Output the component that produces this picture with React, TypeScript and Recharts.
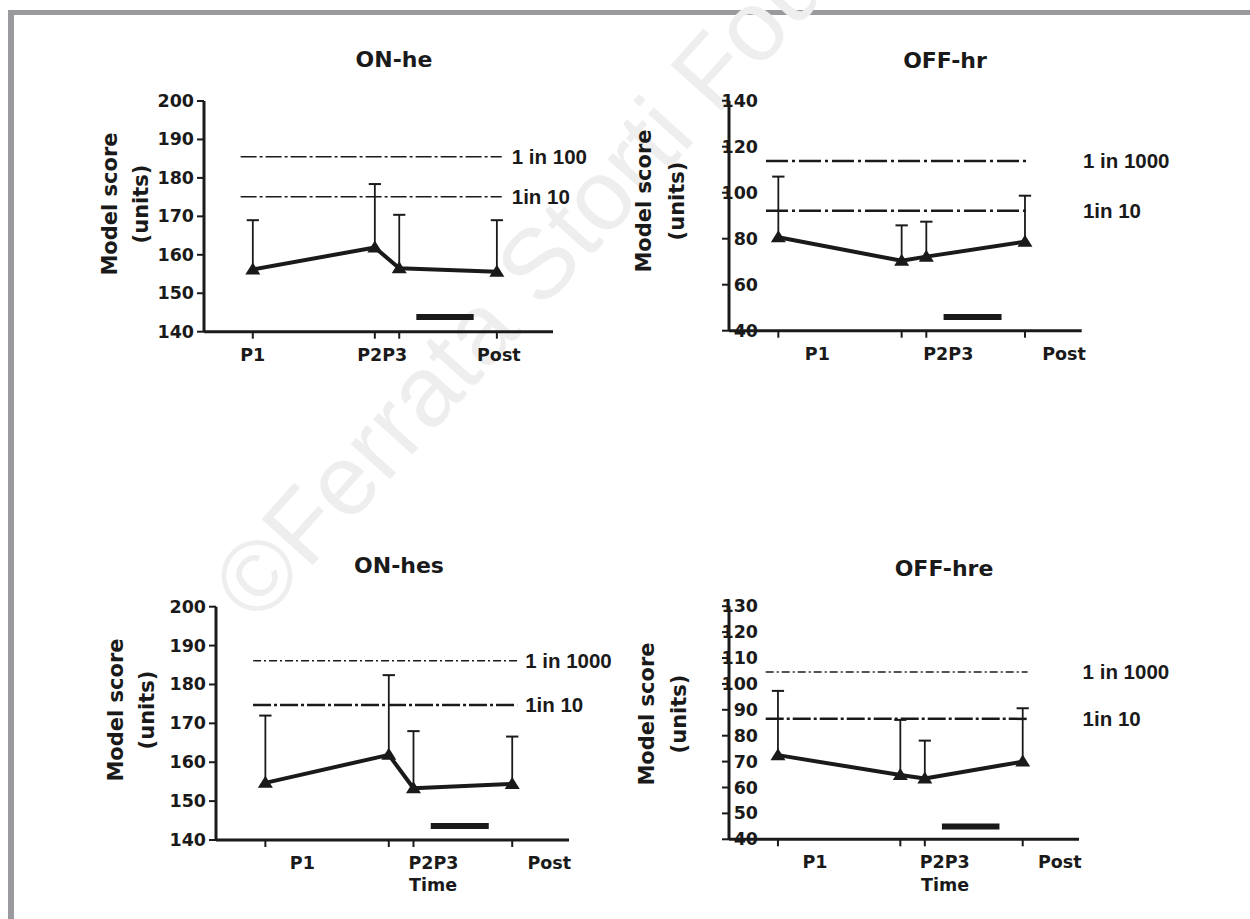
import React from 'react';
import { LineChart, Line, XAxis, YAxis, ReferenceLine } from 'recharts';

// ---------- shared data ----------
const timePoints = [2, 7, 8, 12];
const timeLabels = ['P1', '', 'P2P3', 'Post'];
const xDomain = [0, 14.3];
const thresholdSpan = [1.5, 12.2];
const treatmentSpan = [8.7, 11.05];
const capHalf = 0.25;

// ---------- ON-he ----------
const onHeMean = [156.2, 161.9, 156.5, 155.6];
const onHeUpper = [169.0, 178.4, 170.4, 169.0];
const onHeThresholds = [185.5, 175.1];
const onHeThresholdLabels = ['1 in 100', '1in 10'];
const onHeTicks = [140, 150, 160, 170, 180, 190, 200];
const onHeBar = 143.8;

// ---------- OFF-hr ----------
const offHrMean = [80.6, 70.4, 72.2, 78.7];
const offHrUpper = [107.0, 85.8, 87.4, 98.7];
const offHrThresholds = [113.8, 92.2];
const offHrThresholdLabels = ['1 in 1000', '1in 10'];
const offHrTicks = [40, 60, 80, 100, 120, 140];
const offHrBar = 46;

// ---------- ON-hes ----------
const onHesMean = [154.7, 161.9, 153.3, 154.4];
const onHesUpper = [172.0, 182.4, 168.0, 166.6];
const onHesThresholds = [186.1, 174.7];
const onHesThresholdLabels = ['1 in 1000', '1in 10'];
const onHesTicks = [140, 150, 160, 170, 180, 190, 200];
const onHesBar = 143.6;

// ---------- OFF-hre ----------
const offHreMean = [72.5, 64.8, 63.5, 70.0];
const offHreUpper = [97.3, 86.1, 78.1, 90.6];
const offHreThresholds = [104.6, 86.5];
const offHreThresholdLabels = ['1 in 1000', '1in 10'];
const offHreTicks = [40, 50, 60, 70, 80, 90, 100, 110, 120, 130];
const offHreBar = 44.9;

const INK = '#1a1a1a';
const TICK_FONT = '"DejaVu Sans", Verdana, sans-serif';
const LABEL_FONT = '"Liberation Sans", Arial, sans-serif';

const W = 1250;
const H = 919;

type PanelCfg = {
  title: string;
  mean: number[];
  upper: number[];
  thresholds: number[];
  thresholdLabels: string[];
  ticks: number[];
  bar: number;
  plot: { left: number; right: number; top: number; bottom: number };
  yTickDx: number;
  xLabelDx: number[];
  thresholdGap: number;
  thrStyles: { w: number; dash: string }[];
  titlePos: [number, number];
  yTitleX: [number, number];
  yTitleY: number;
  timePos: [number, number] | null;
};

const panels: PanelCfg[] = [
  {
    title: 'ON-he', mean: onHeMean, upper: onHeUpper, thresholds: onHeThresholds,
    thresholdLabels: onHeThresholdLabels, ticks: onHeTicks, bar: onHeBar,
    plot: { left: 204, right: 553, top: 101, bottom: 331.7 },
    yTickDx: 0, xLabelDx: [0, 0, -17, 2], thresholdGap: 10,
    thrStyles: [{ w: 1.5, dash: '16 3 3 3' }, { w: 1.5, dash: '16 3 3 3' }],
    titlePos: [394, 59], yTitleX: [110, 141], yTitleY: 204, timePos: null,
  },
  {
    title: 'OFF-hr', mean: offHrMean, upper: offHrUpper, thresholds: offHrThresholds,
    thresholdLabels: offHrThresholdLabels, ticks: offHrTicks, bar: offHrBar,
    plot: { left: 729, right: 1081.7, top: 100.7, bottom: 330.7 },
    yTickDx: 39, xLabelDx: [39, 0, 22, 39], thresholdGap: 53,
    thrStyles: [{ w: 2.5, dash: '22 4 3 4' }, { w: 2.5, dash: '22 4 3 4' }],
    titlePos: [945, 60], yTitleX: [644, 677], yTitleY: 201, timePos: null,
  },
  {
    title: 'ON-hes', mean: onHesMean, upper: onHesUpper, thresholds: onHesThresholds,
    thresholdLabels: onHesThresholdLabels, ticks: onHesTicks, bar: onHesBar,
    plot: { left: 216, right: 569, top: 606.7, bottom: 840 },
    yTickDx: 0, xLabelDx: [37, 0, 20, 37], thresholdGap: 8,
    thrStyles: [{ w: 1.3, dash: '8 3 2 3' }, { w: 2.5, dash: '18 3 3 3' }],
    titlePos: [399, 565], yTitleX: [116, 147], yTitleY: 710, timePos: [433, 885],
  },
  {
    title: 'OFF-hre', mean: offHreMean, upper: offHreUpper, thresholds: offHreThresholds,
    thresholdLabels: offHreThresholdLabels, ticks: offHreTicks, bar: offHreBar,
    plot: { left: 729, right: 1079, top: 606.2, bottom: 839.3 },
    yTickDx: 39, xLabelDx: [37, 0, 20, 37], thresholdGap: 55,
    thrStyles: [{ w: 1.3, dash: '8 3 2 3' }, { w: 2.5, dash: '18 3 3 3' }],
    titlePos: [944, 568], yTitleX: [647, 679], yTitleY: 714, timePos: [945, 885],
  },
];

const makeYTick = (dx: number) => (props: any) => {
  const { x, y, payload } = props;
  return (
    <text x={x + dx} y={y} textAnchor="end" dominantBaseline="central"
      fontFamily={TICK_FONT} fontWeight={700} fontSize={17.5} fill={INK}>
      {payload.value}
    </text>
  );
};

const makeXTick = (dxs: number[]) => (props: any) => {
  const { x, y, index } = props;
  const label = timeLabels[index];
  if (!label) return <g />;
  return (
    <text x={x + dxs[index]} y={y + 14} textAnchor="middle" dominantBaseline="central"
      fontFamily={TICK_FONT} fontWeight={700} fontSize={17.5} fill={INK}>
      {label}
    </text>
  );
};

const triangle = (props: any) => {
  const { cx, cy, index } = props;
  if (cx == null || cy == null) return <g key={`t-${index}`} />;
  return (
    <path key={`tri-${index}`} d={`M${cx},${cy - 7} L${cx + 7.5},${cy + 5} L${cx - 7.5},${cy + 5} Z`} fill={INK} />
  );
};

function Panel({ cfg }: { cfg: PanelCfg }) {
  const data = timePoints.map((t, i) => ({ t, v: cfg.mean[i], up: cfg.upper[i] }));
  const yAxisW = 60;
  const xAxisH = 30;
  const margin = {
    top: cfg.plot.top,
    right: W - cfg.plot.right,
    left: cfg.plot.left - yAxisW,
    bottom: H - cfg.plot.bottom - xAxisH,
  };
  const yDomain = [cfg.ticks[0], cfg.ticks[cfg.ticks.length - 1]];
  return (
    <div style={{ position: 'absolute', left: 0, top: 0, width: W, height: H }}>
      <LineChart width={W} height={H} data={data} margin={margin}>
        <XAxis
          dataKey="t" type="number" domain={xDomain} ticks={timePoints} interval={0}
          allowDataOverflow height={xAxisH} tickSize={7}
          axisLine={{ stroke: INK, strokeWidth: 3 }}
          tickLine={{ stroke: INK, strokeWidth: 2 }}
          tick={makeXTick(cfg.xLabelDx)}
        />
        <YAxis
          type="number" domain={yDomain} ticks={cfg.ticks} interval={0}
          allowDataOverflow width={yAxisW} tickSize={7} tickMargin={3}
          axisLine={{ stroke: INK, strokeWidth: 3 }}
          tickLine={{ stroke: INK, strokeWidth: 2 }}
          tick={makeYTick(cfg.yTickDx)}
        />
        {cfg.thresholds.map((v, i) => (
          <ReferenceLine
            key={`thr-${i}`}
            segment={[{ x: thresholdSpan[0], y: v }, { x: thresholdSpan[1], y: v }]}
            stroke={INK}
            strokeWidth={cfg.thrStyles[i].w}
            strokeDasharray={cfg.thrStyles[i].dash}
            label={{
              value: cfg.thresholdLabels[i], position: 'right', offset: cfg.thresholdGap,
              fill: INK, fontSize: 20.5, fontWeight: 700, fontFamily: LABEL_FONT,
            }}
          />
        ))}
        <ReferenceLine
          segment={[{ x: treatmentSpan[0], y: cfg.bar }, { x: treatmentSpan[1], y: cfg.bar }]}
          stroke={INK}
          strokeWidth={6}
        />
        {data.map((d, i) => (
          <ReferenceLine
            key={`wv-${i}`}
            segment={[{ x: d.t, y: d.v }, { x: d.t, y: d.up }]}
            stroke={INK}
            strokeWidth={1.8}
          />
        ))}
        {data.map((d, i) => (
          <ReferenceLine
            key={`wc-${i}`}
            segment={[{ x: d.t - capHalf, y: d.up }, { x: d.t + capHalf, y: d.up }]}
            stroke={INK}
            strokeWidth={2}
          />
        ))}
        <Line
          dataKey="v" stroke={INK} strokeWidth={4} strokeLinejoin="round"
          dot={triangle} activeDot={false} isAnimationActive={false}
        />
      </LineChart>
    </div>
  );
}

function Background() {
  return (
    <svg width={W} height={H} style={{ position: 'absolute', left: 0, top: 0 }}>
      <rect x={0} y={0} width={W} height={H} fill="#ffffff" />
      <rect x={8} y={10} width={W - 8} height={5} fill="#9a9a9e" />
      <rect x={8} y={10} width={6} height={H - 10} fill="#9a9a9e" />
      <text
        x={258} y={626} transform="rotate(-48 258 626)"
        fontFamily={LABEL_FONT} fontSize={100} fill="#eeeeee"
      >
        ©Ferrata Storti Foundation
      </text>
      {panels.map((p, i) => (
        <g key={`ann-${i}`} fill={INK} fontWeight={700}>
          <text x={p.titlePos[0]} y={p.titlePos[1]} textAnchor="middle" dominantBaseline="central"
            fontFamily={TICK_FONT} fontSize={22}>
            {p.title}
          </text>
          <text transform={`translate(${p.yTitleX[0]},${p.yTitleY}) rotate(-90)`} textAnchor="middle"
            dominantBaseline="central" fontFamily={TICK_FONT} fontSize={21}>
            Model score
          </text>
          <text transform={`translate(${p.yTitleX[1]},${p.yTitleY}) rotate(-90)`} textAnchor="middle"
            dominantBaseline="central" fontFamily={TICK_FONT} fontSize={21}>
            (units)
          </text>
          {p.timePos && (
            <text x={p.timePos[0]} y={p.timePos[1]} textAnchor="middle" dominantBaseline="central"
              fontFamily={TICK_FONT} fontSize={17.5}>
              Time
            </text>
          )}
        </g>
      ))}
    </svg>
  );
}

export default function App() {
  return (
    <div style={{ position: 'absolute', left: 0, top: 0, width: W, height: H, overflow: 'hidden', background: '#fff' }}>
      <Background />
      {panels.map((p, i) => (
        <Panel key={i} cfg={p} />
      ))}
    </div>
  );
}
